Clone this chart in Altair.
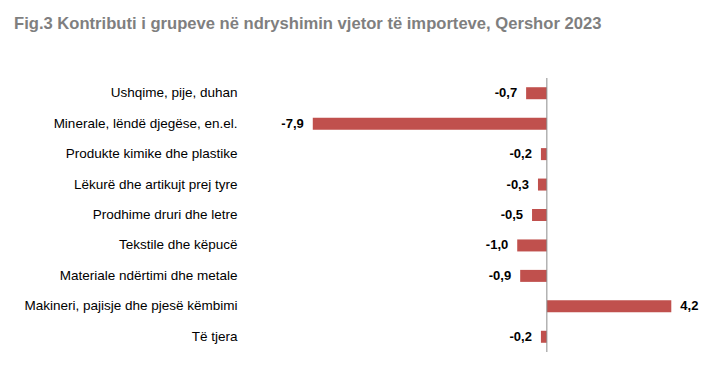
import altair as alt
import pandas as pd

categories = [
    "Ushqime, pije, duhan",
    "Minerale, lëndë djegëse, en.el.",
    "Produkte kimike dhe plastike",
    "Lëkurë dhe artikujt prej tyre",
    "Prodhime druri dhe letre",
    "Tekstile dhe këpucë",
    "Materiale ndërtimi dhe metale",
    "Makineri, pajisje dhe pjesë këmbimi",
    "Të tjera",
]
values = [-0.7, -7.9, -0.2, -0.3, -0.5, -1.0, -0.9, 4.2, -0.2]
labels = [f"{v:.1f}".replace(".", ",") for v in values]

df = pd.DataFrame({"cat": categories, "val": values, "lab": labels})

FONT = "Arial, Liberation Sans, sans-serif"
RED = "#C0504D"

x = alt.X("val:Q", scale=alt.Scale(domain=[-8.5, 5], nice=False, zero=False), axis=None)
y = alt.Y("cat:N", sort=categories, title=None,
          axis=alt.Axis(labelFont=FONT, labelFontSize=13.5, labelColor="#000000",
                        ticks=False, domain=False, labelPadding=58, labelLimit=300))

base = alt.Chart(df)
bars = base.mark_bar(color=RED, size=12).encode(x=x, y=y)
neg = base.transform_filter("datum.val < 0").mark_text(
    align="right", baseline="middle", dx=-9, font=FONT, fontSize=13, fontWeight="bold", color="#000000"
).encode(x=x, y=y, text="lab:N")
pos = base.transform_filter("datum.val >= 0").mark_text(
    align="left", baseline="middle", dx=9, font=FONT, fontSize=13, fontWeight="bold", color="#000000"
).encode(x=x, y=y, text="lab:N")
zero = alt.Chart(pd.DataFrame({"z": [0]})).mark_rule(color="#8c8c8c", strokeWidth=1).encode(
    x=alt.X("z:Q", scale=alt.Scale(domain=[-8.5, 5], nice=False, zero=False), axis=None)
)

chart = alt.layer(bars, zero, neg, pos).properties(
    width=400,
    height=274,
    autosize=alt.AutoSizeParams(type="none"),
    padding={"left": 287, "top": 70, "right": 10, "bottom": 10},
    title=alt.TitleParams(
        "Fig.3 Kontributi i grupeve në ndryshimin vjetor të importeve, Qershor 2023",
        anchor="start", frame="group", dx=-281, dy=-41,
        font=FONT,
        fontSize=16.6, fontWeight="bold", color="#7f7f7f",
    ),
).configure(background="#ffffff").configure_view(strokeWidth=0, stroke=None)

chart.save("out.html", embed_options={"renderer": "svg", "actions": False})
